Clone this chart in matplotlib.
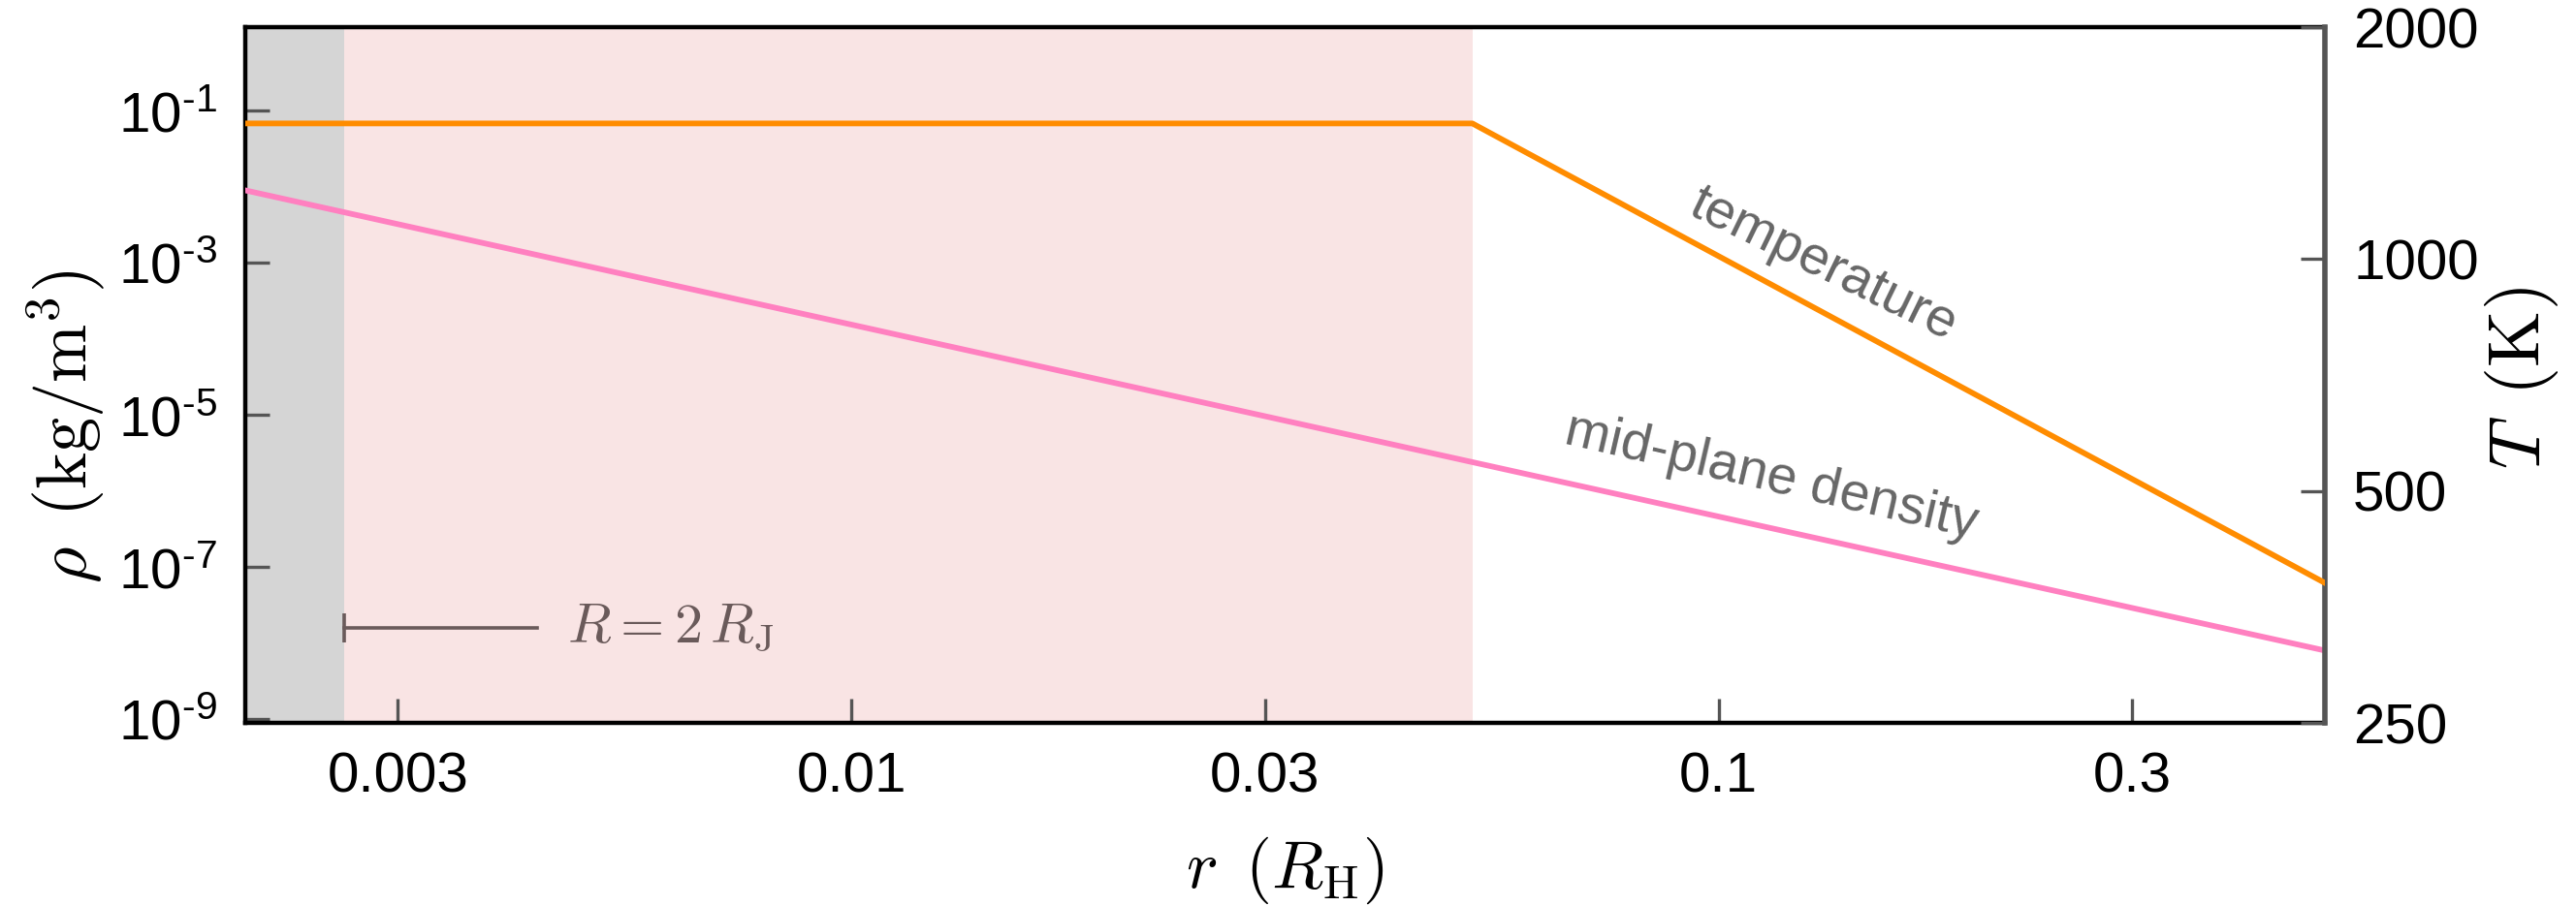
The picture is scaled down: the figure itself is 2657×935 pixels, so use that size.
import matplotlib
matplotlib.use("Agg")
import matplotlib.pyplot as plt
import numpy as np

plt.rcParams['font.family'] = ['Liberation Sans', 'DejaVu Sans']
plt.rcParams['mathtext.fontset'] = 'custom'
plt.rcParams['mathtext.rm'] = 'Liberation Sans'
plt.rcParams['mathtext.it'] = 'Liberation Sans:italic'

# data
r_temp = [0.002, 0.052, 0.5]         # r (R_H)
T_vals = [1500, 1500, 380]           # K
r_dens = [0.002, 0.052, 0.5]
rho_vals = [9e-3, 2.4e-6, 8e-9]      # kg/m^3
r_planet = 0.0026                    # R = 2 R_J
r_inner = 0.052                      # edge of pink region
x_ticks = [0.003, 0.01, 0.03, 0.1, 0.3]
x_ticklabels = ['0.003', '0.01', '0.03', '0.1', '0.3']
rho_ticks = [1e-1, 1e-3, 1e-5, 1e-7, 1e-9]
rho_ticklabels = [r'10$^{\text{-1}}$', r'10$^{\text{-3}}$', r'10$^{\text{-5}}$',
                  r'10$^{\text{-7}}$', r'10$^{\text{-9}}$']
T_ticks = [250, 500, 1000, 2000]
T_ticklabels = ['250', '500', '1000', '2000']

fig = plt.figure(figsize=(13.285, 4.675), dpi=200)
ax = fig.add_axes([0.0952, 0.202, 0.8073, 0.768])
ax2 = ax.twinx()

ax.set_xscale('log')
ax.set_yscale('log')
ax2.set_yscale('log')
ax.set_xlim(0.002, 0.5)
ax.set_ylim(10**-9.05, 10**0.1)
ax2.set_ylim(250, 2000)

# shaded regions
ax.axvspan(0.002, r_planet, color='#d5d5d5', lw=0, zorder=0)
ax.axvspan(r_planet, r_inner, color='#f9e4e4', lw=0, zorder=0)

# curves
ax.plot(r_dens, rho_vals, color='#ff80c0', lw=2.1, zorder=3)
ax2.plot(r_temp, T_vals, color='#ff8c00', lw=2.1, zorder=3)

# R = 2 R_J marker
y_ann = 1.6e-8
ax.plot([r_planet, 0.00434], [y_ann, y_ann], color='#6a5a5a', lw=1.3, zorder=4)
ax.plot([r_planet], [y_ann], marker='|', ms=11, mew=1.3, color='#6a5a5a', zorder=4)
ax.text(0.0047, y_ann, r'$R = 2\,R_\mathrm{J}$', color='#6a5a5a', fontsize=21,
        va='center', ha='left', math_fontfamily='cm')

# curve labels
ax.text(0.132, 9.5e-4, 'temperature', color='#666666', fontsize=20,
        rotation=-26, ha='center', va='center')
ax.text(0.115, 1.5e-6, 'mid-plane density', color='#666666', fontsize=20,
        rotation=-13, ha='center', va='center')

# ticks
ax.set_xticks(x_ticks)
ax.set_xticklabels(x_ticklabels)
ax.xaxis.set_minor_locator(matplotlib.ticker.NullLocator())
ax.set_yticks(rho_ticks)
ax.set_yticklabels(rho_ticklabels)
ax.yaxis.set_minor_locator(matplotlib.ticker.NullLocator())
ax2.set_yticks(T_ticks)
ax2.set_yticklabels(T_ticklabels)
ax2.yaxis.set_minor_locator(matplotlib.ticker.NullLocator())

ax.tick_params(axis='both', direction='in', length=9, width=1.2, color='#555555',
               labelsize=21, top=False, pad=10.5)
ax2.tick_params(axis='y', direction='in', length=9, width=1.2, color='#555555',
                labelsize=21, pad=10.5)

for s in ['left', 'top', 'bottom']:
    ax.spines[s].set_linewidth(1.6)
    ax.spines[s].set_color('black')
ax2.spines['right'].set_linewidth(2.0)
ax2.spines['right'].set_color('#555555')
for s in ['left', 'top', 'bottom']:
    ax2.spines[s].set_visible(False)

ax.set_xlabel(r'$r\ \, (R_\mathrm{H})$', fontsize=25, math_fontfamily='cm')
ax.set_ylabel(r'$\rho\ \, (\mathrm{kg/m^3})$', fontsize=26, math_fontfamily='cm')
ax2.set_ylabel(r'$T\ \, (\mathrm{K})$', fontsize=27, math_fontfamily='cm')

ax.xaxis.set_label_coords(0.5, -0.212)
ax.xaxis.label.set_va('center')
ax.yaxis.set_label_coords(-0.0862, 0.426)
ax.yaxis.label.set_va('center')
ax.yaxis.label.set_ha('center')
ax2.yaxis.set_label_coords(1.0946, 0.496)
ax2.yaxis.label.set_va('center')
ax2.yaxis.label.set_ha('center')

fig.savefig('out.png', dpi=200)
